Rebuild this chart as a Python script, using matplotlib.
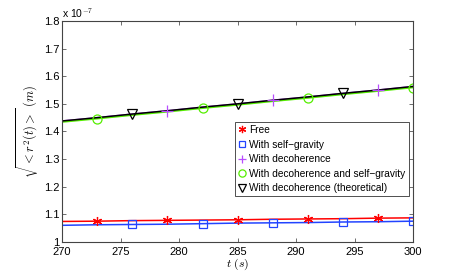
import matplotlib
matplotlib.use('Agg')
import matplotlib.pyplot as plt

plt.rcParams['font.family'] = ['Liberation Sans', 'DejaVu Sans']
plt.rcParams['mathtext.fontset'] = 'cm'

# time samples (s)
t = [270, 273, 276, 279, 282, 285, 288, 291, 294, 297, 300]

# sqrt(<r^2(t)>) in units of 1e-7 m
free = [1.074, 1.075, 1.077, 1.078, 1.079, 1.080, 1.082, 1.083, 1.084, 1.086, 1.087]
self_grav = [1.060, 1.062, 1.063, 1.064, 1.066, 1.068, 1.069, 1.070, 1.072, 1.073, 1.075]
decoh = [1.438, 1.450, 1.463, 1.475, 1.488, 1.500, 1.513, 1.525, 1.538, 1.550, 1.563]
decoh_grav = [1.434, 1.446, 1.459, 1.471, 1.484, 1.496, 1.509, 1.521, 1.534, 1.546, 1.559]
decoh_theory = [1.438, 1.450, 1.463, 1.475, 1.488, 1.500, 1.513, 1.525, 1.538, 1.550, 1.563]

# which samples carry a marker
free_marks = [1, 3, 5, 7, 9]
grav_marks = [2, 4, 6, 8, 10]
decoh_marks = [3, 6, 9]
decoh_grav_marks = [1, 4, 7, 10]
theory_marks = [2, 5, 8]

series = [
    (free, free_marks, 'red', (6, 2, 0), 6.5, 'Free'),
    (self_grav, grav_marks, '#2244ff', 's', 5.5, 'With self\u2212gravity'),
    (decoh, decoh_marks, '#b84dff', '+', 8, 'With decoherence'),
    (decoh_grav, decoh_grav_marks, '#55ee00', 'o', 6.5, 'With decoherence and self\u2212gravity'),
    (decoh_theory, theory_marks, 'black', 'v', 6.5, 'With decoherence (theoretical)'),
]

fig = plt.figure(figsize=(4.57, 2.73), dpi=100)
ax = fig.add_axes([0.136, 0.114, 0.768, 0.809])

for y, marks, col, mk, ms, lab in series:
    ax.plot(t, y, color=col, lw=1.1)
for y, marks, col, mk, ms, lab in series:
    ax.plot([t[i] for i in marks], [y[i] for i in marks], ls='none', marker=mk,
            ms=ms, mfc='none' if mk not in ((6, 2, 0), '+') else col,
            mec=col, mew=0.9, label=lab)

ax.set_xlim(270, 300)
ax.set_ylim(1.0, 1.8)
ax.set_xticks([270, 275, 280, 285, 290, 295, 300])
yt = [1.0, 1.1, 1.2, 1.3, 1.4, 1.5, 1.6, 1.7, 1.8]
ax.set_yticks(yt)
ax.set_yticklabels(['1', '1.1', '1.2', '1.3', '1.4', '1.5', '1.6', '1.7', '1.8'])
ax.tick_params(direction='in', top=True, right=True, length=3, width=0.6,
               labelsize=8, color='#555555', pad=2)
ax.tick_params(axis='x', pad=3.5)
for s in ax.spines.values():
    s.set_color('#444444')
    s.set_linewidth(0.8)

ax.text(0.0, 1.005, 'x 10$^{-7}$', transform=ax.transAxes, fontsize=7.5,
        ha='left', va='bottom')
ax.set_xlabel('$t\\ (s)$', fontsize=8.5, labelpad=0)
ax.set_ylabel('$\\sqrt{<r^2(t)>}\\ (m)$', fontsize=9, labelpad=2)

leg = ax.legend(loc='upper left', bbox_to_anchor=(0.493, 0.543), fontsize=7.3,
                frameon=True, fancybox=False, edgecolor='#333333', framealpha=1,
                handlelength=0.8, handletextpad=0.3, borderpad=0.3,
                labelspacing=0.45, borderaxespad=0, markerscale=0.8)
leg.get_frame().set_linewidth(0.6)

fig.savefig('out.png', dpi=100)
